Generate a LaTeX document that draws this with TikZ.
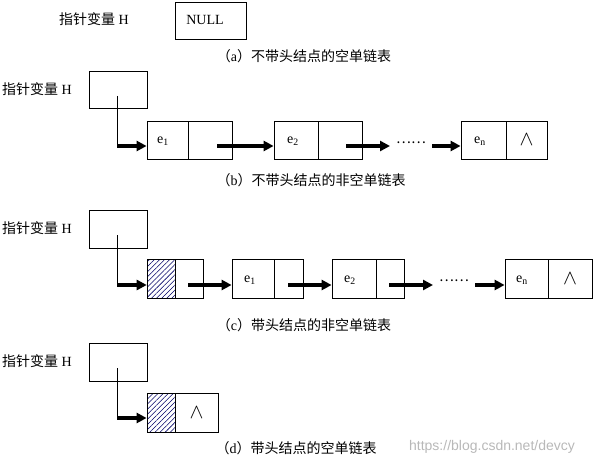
\documentclass[tikz,border=0pt]{standalone}
\usepackage{fontspec}
\setmainfont{Liberation Serif}
\setsansfont{Liberation Sans}
\newfontfamily\cjk{Noto Sans CJK SC}
\usetikzlibrary{arrows.meta,patterns.meta}
\newcommand\zh[1]{{\cjk #1}}
\newcommand\nilmark{\scalebox{1.45}{$\wedge$}}
\tikzset{
  every node/.style={font=\fontsize{14pt}{16pt}\selectfont},
  cell/.style={draw, line width=0.8pt, inner sep=0pt, minimum height=38pt},
  hbox/.style={cell, minimum width=58pt},
  hatchcell/.style={cell, pattern={Lines[angle=45,distance=3.6pt,line width=0.55pt]}, pattern color=blue!40!black},
  ptrline/.style={line width=0.7pt},
  link/.style={line width=3.1pt, -{Triangle[length=10pt,width=10pt]}},
  txt/.style={inner sep=0pt},
  wm/.style={font=\sffamily\fontsize{14pt}{16pt}\selectfont, text=black!28}
}
\begin{document}
\begin{tikzpicture}[x=1pt,y=-1pt]
\useasboundingbox (0,0) rectangle (594,465);

% ---------------- (a)
\node[txt] (la) at (94,19) {\zh{指针变量} H};
\node[cell, minimum width=71pt, minimum height=37pt] (nullbox) at (210.5,20.5) {};
\node[txt] (nulltxt) at (205,20) {NULL};
\node[txt] (capa) at (304,56) {\zh{（}a\zh{）不带头结点的空单链表}};

% ---------------- (b)
\node[txt] (lb) at (37,89) {\zh{指针变量} H};
\node[hbox, minimum height=37pt] (Hb) at (118,89.5) {};
\node[cell, minimum width=41pt] (b1d) at (167.5,140) {};
\node[cell, minimum width=44pt] (b1p) at (210,140) {};
\node[cell, minimum width=44pt] (b2d) at (296,140) {};
\node[cell, minimum width=44pt] (b2p) at (340,140) {};
\node[cell, minimum width=45pt] (bnd) at (483.5,140) {};
\node[cell, minimum width=41pt] (bnp) at (526.5,140) {\nilmark};
\node[txt] (b1t) at (163,141) {e\textsubscript{1}};
\node[txt] (b2t) at (293,141) {e\textsubscript{2}};
\node[txt] (bnt) at (480,141) {e\textsubscript{n}};
\node[txt] (bdots) at (411,143) {\zh{……}};
\coordinate (bH1) at (117,96);
\coordinate (bH2) at (117,146);
\coordinate (b1s) at (217,146);
\coordinate (b2s) at (346,146);
\coordinate (bd1) at (390,146);
\coordinate (bd2) at (432,146);
\draw[ptrline] (bH1) -- (bH2);
\draw[link] (bH2) -- (b1d.west |- bH2);
\draw[link] (b1s) -- (b2d.west |- b1s);
\draw[link] (b2s) -- (bd1);
\draw[link] (bd2) -- (bnd.west |- bd2);
\node[txt] (capb) at (311,180) {\zh{（}b\zh{）不带头结点的非空单链表}};

% ---------------- (c)
\node[txt] (lc) at (37,228) {\zh{指针变量} H};
\node[hbox] (Hc) at (118,229) {};
\node[hatchcell, minimum width=28pt, minimum height=39pt] (chd) at (161,278.5) {};
\node[cell, minimum width=28pt, minimum height=39pt] (chp) at (189,278.5) {};
\node[cell, minimum width=42pt, minimum height=39pt] (c1d) at (253,278.5) {};
\node[cell, minimum width=29pt, minimum height=39pt] (c1p) at (288.5,278.5) {};
\node[cell, minimum width=44pt, minimum height=39pt] (c2d) at (354,278.5) {};
\node[cell, minimum width=28pt, minimum height=39pt] (c2p) at (390,278.5) {};
\node[cell, minimum width=43pt, minimum height=39pt] (cnd) at (526.5,278.5) {};
\node[cell, minimum width=44pt, minimum height=39pt] (cnp) at (570,278.5) {\nilmark};
\node[txt] (c1t) at (250,280) {e\textsubscript{1}};
\node[txt] (c2t) at (350,280) {e\textsubscript{2}};
\node[txt] (cnt) at (522,280) {e\textsubscript{n}};
\node[txt] (cdots) at (454,281) {\zh{……}};
\coordinate (cH1) at (117,235);
\coordinate (cH2) at (117,285);
\coordinate (chs) at (188,285);
\coordinate (c1s) at (288,285);
\coordinate (c2s) at (389,285);
\coordinate (cd1) at (433,285);
\coordinate (cd2) at (475,285);
\draw[ptrline] (cH1) -- (cH2);
\draw[link] (cH2) -- (chd.west |- cH2);
\draw[link] (chs) -- (c1d.west |- chs);
\draw[link] (c1s) -- (c2d.west |- c1s);
\draw[link] (c2s) -- (cd1);
\draw[link] (cd2) -- (cnd.west |- cd2);
\node[txt] (capc) at (304,325) {\zh{（}c\zh{）带头结点的非空单链表}};

% ---------------- (d)
\node[txt] (ld) at (37,361) {\zh{指针变量} H};
\node[hbox] (Hd) at (118,362) {};
\node[hatchcell, minimum width=28pt, minimum height=39pt] (dhd) at (161,412.5) {};
\node[cell, minimum width=43pt, minimum height=39pt] (dhp) at (196.5,412.5) {\nilmark};
\coordinate (dH1) at (117,368);
\coordinate (dH2) at (117,418);
\draw[ptrline] (dH1) -- (dH2);
\draw[link] (dH2) -- (dhd.west |- dH2);
\node[txt] (capd) at (296,448) {\zh{（}d\zh{）带头结点的空单链表}};
\node[txt, wm] (wmark) at (492,447) {https://blog.csdn.net/devcy};
\end{tikzpicture}
\end{document}
